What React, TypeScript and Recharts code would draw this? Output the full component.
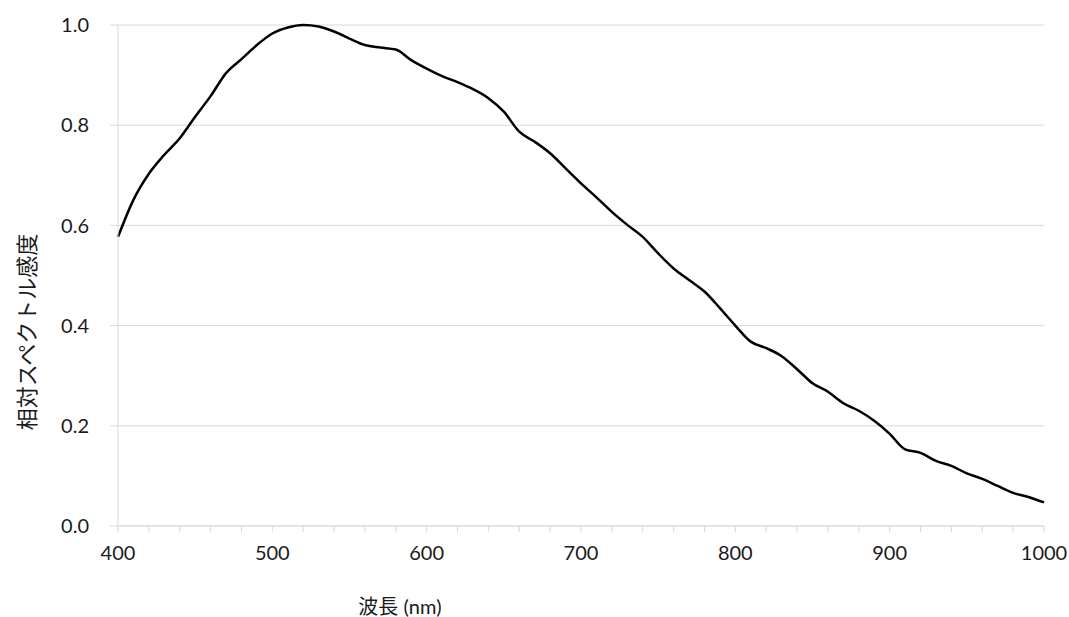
import { CartesianGrid, Line, LineChart, XAxis, YAxis } from "recharts";

// 波長 (nm)
const WAVELENGTHS = [
  400, 410, 420, 430, 440, 450, 460, 470, 480, 490, 500, 510, 520, 530, 540, 550, 560,
  570, 580, 590, 600, 610, 620, 630, 640, 650, 660, 670, 680, 690, 700, 710, 720, 730,
  740, 750, 760, 770, 780, 790, 800, 810, 820, 830, 840, 850, 860, 870, 880, 890, 900,
  910, 920, 930, 940, 950, 960, 970, 980, 990, 1000,
];

// 相対スペクトル感度
const RESPONSE = [
  0.577, 0.651, 0.703, 0.741, 0.774, 0.817, 0.858, 0.904, 0.932, 0.96, 0.983, 0.995,
  1.0, 0.997, 0.987, 0.973, 0.96, 0.955, 0.951, 0.93, 0.913, 0.898, 0.886, 0.872,
  0.854, 0.827, 0.787, 0.767, 0.744, 0.714, 0.684, 0.656, 0.627, 0.601, 0.577, 0.544,
  0.514, 0.491, 0.468, 0.435, 0.4, 0.368, 0.355, 0.339, 0.313, 0.285, 0.268, 0.245,
  0.23, 0.21, 0.184, 0.153, 0.146, 0.13, 0.12, 0.105, 0.094, 0.08, 0.066, 0.058, 0.047,
];

const X_TICKS = [
  400, 420, 440, 460, 480, 500, 520, 540, 560, 580, 600, 620, 640, 660, 680, 700, 720,
  740, 760, 780, 800, 820, 840, 860, 880, 900, 920, 940, 960, 980, 1000,
];
const Y_TICKS = [0, 0.2, 0.4, 0.6, 0.8, 1.0];

const X_TITLE = "波長 (nm)";
const Y_TITLE = "相対スペクトル感度";

const GRID = "#d9d9d9";
const FONT = "Lato, 'Noto Sans CJK JP', sans-serif";

const data = WAVELENGTHS.map((nm, i) => ({ nm, value: RESPONSE[i] }));

export default function App() {
  return (
    <div
      style={{
        position: "absolute",
        left: 0,
        top: 0,
        width: 1069,
        height: 617,
        background: "#fff",
        fontFamily: FONT,
      }}
    >
      <LineChart
        width={1069}
        height={617}
        data={data}
        margin={{ top: 25, right: 25, left: 0, bottom: 0 }}
      >
        <CartesianGrid vertical={false} stroke={GRID} strokeWidth={1} />
        <XAxis
          dataKey="nm"
          type="number"
          domain={[400, 1000]}
          ticks={X_TICKS}
          interval={0}
          tickFormatter={(v: number) => (v % 100 === 0 ? String(v) : "")}
          height={91}
          tickSize={6}
          tickMargin={14}
          stroke={GRID}
          tick={{ fill: "#1a1a1a", fontSize: 20, fontFamily: FONT }}
        />
        <YAxis
          type="number"
          domain={[0, 1]}
          ticks={Y_TICKS}
          interval={0}
          tickFormatter={(v: number) => v.toFixed(1)}
          width={118}
          tickSize={8}
          tickMargin={21}
          stroke={GRID}
          tick={{ fill: "#1a1a1a", fontSize: 20, fontFamily: FONT }}
        />
        <Line
          type="monotone"
          dataKey="value"
          stroke="#000"
          strokeWidth={2.5}
          dot={false}
          isAnimationActive={false}
        />
      </LineChart>
      <div
        style={{
          position: "absolute",
          left: 400,
          top: 605,
          transform: "translate(-50%, -50%)",
          fontSize: 20,
          color: "#1a1a1a",
          whiteSpace: "nowrap",
        }}
      >
        {X_TITLE}
      </div>
      <div
        style={{
          position: "absolute",
          left: 25,
          top: 332,
          transform: "translate(-50%, -50%) rotate(-90deg)",
          fontSize: 22,
          color: "#1a1a1a",
          whiteSpace: "nowrap",
        }}
      >
        {Y_TITLE}
      </div>
    </div>
  );
}
